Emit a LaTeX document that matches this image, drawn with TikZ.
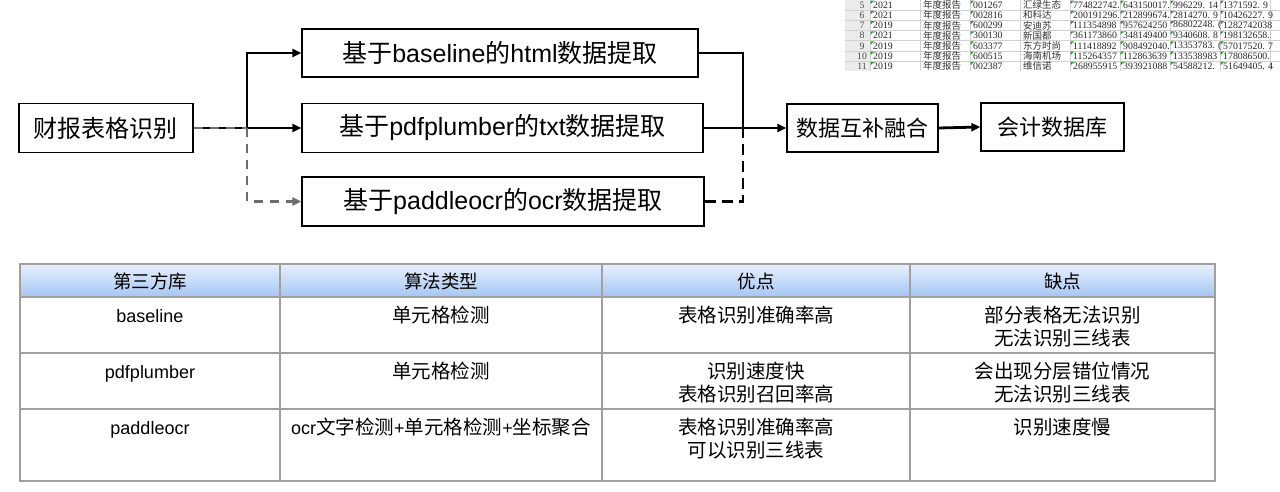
\documentclass[tikz,border=0pt]{standalone}
\usepackage{fontspec}
\setmainfont{Liberation Sans}
\newfontfamily\cjk{Noto Sans CJK SC}
\newfontfamily\xlserif{Liberation Serif}
\usetikzlibrary{arrows.meta}
\definecolor{hdtop}{RGB}{232,240,253}
\definecolor{hdmid}{RGB}{212,227,250}
\definecolor{hdbot}{RGB}{165,197,243}
\definecolor{gridc}{RGB}{160,160,160}
\definecolor{dashg}{RGB}{110,110,110}
\definecolor{xlgreen}{RGB}{40,150,40}
\tikzset{
  flowbox/.style={draw=black, line width=1.3pt, fill=white, inner sep=0pt, align=center},
  tip/.style={-{Triangle[length=9pt,width=8pt]}},
  mainline/.style={draw=black, line width=2.8pt},
  grayline/.style={draw=dashg, line width=2.5pt, dash pattern=on 9pt off 7pt},
  blackdash/.style={draw=black, line width=2.8pt, dash pattern=on 11pt off 6pt},
  th/.style={font=\cjk\fontsize{18.5}{22}\selectfont, anchor=base, inner sep=0pt},
  td/.style={font=\cjk\fontsize{19.5}{23}\selectfont, anchor=base, inner sep=0pt},
  tdl/.style={font=\fontsize{18}{22}\selectfont, anchor=base, inner sep=0pt},
  tgrid/.style={draw=gridc, line width=1.4pt},
  xlnum/.style={font=\xlserif\fontsize{9.8}{10}\selectfont, anchor=west, inner sep=0pt, text=black!85},
  xlcjk/.style={font=\cjk\fontsize{9.5}{10}\selectfont, anchor=west, inner sep=0pt, text=black!80},
  xlrow/.style={font=\xlserif\fontsize{9.8}{10}\selectfont, anchor=center, inner sep=0pt, text=black!70},
  xltri/.style={fill=xlgreen},
}
\begin{document}
\begin{tikzpicture}[x=1pt,y=-1pt]
\fill[white] (0,0) rectangle (1280,492);
\useasboundingbox (0,0) rectangle (1280,492);

% ---------- spreadsheet fragment ----------
\begin{scope}
\clip (845,0) rectangle (1280,71);
\fill[black!8] (845,0) rectangle (870,71);
\foreach \k in {1,...,7} \draw[black!18, line width=0.6pt] (845,{\k*10.2}) -- (1280,{\k*10.2});
\foreach \k in {0,...,8} \draw[black!18, line width=0.6pt] ({870+\k*50},0) -- ({870+\k*50},71);
\foreach \n/\yr/\code/\nm/\va/\vb/\vc/\vd [count=\i from 0] in {
  5/2021/001267/汇绿生态/774822742./643150017./996229. 14/1371592. 9,
  6/2021/002816/和科达/200191296./212899674./2814270. 9/10426227. 9,
  7/2019/600299/安迪苏/111354898/957624250/86802248. (/1282742038,
  8/2021/300130/新国都/361173860/348149400/9340608. 8/198132658.,
  9/2019/603377/东方时尚/111418892/908492040./13353783. (/57017520. 7,
  10/2019/600515/海南机场/115264357/112863639/133538983/178086500.,
  11/2019/002387/维信诺/268955915/393921088/54588212./51649405. 4}{
  \pgfmathsetmacro{\yc}{5.1+\i*10.2}
  \pgfmathsetmacro{\yt}{\i*10.2}
  \node[xlrow] (rn\i) at (862,\yc) {\n};
  \node[xlnum] (yr\i) at (873,\yc) {\yr};
  \node[xlcjk] (ty\i) at (923,\yc) {年度报告};
  \node[xlnum] (cd\i) at (973,\yc) {\code};
  \node[xlcjk] (nm\i) at (1023,\yc) {\nm};
  \node[xlnum] (va\i) at (1073,\yc) {\va};
  \node[xlnum] (vb\i) at (1123,\yc) {\vb};
  \node[xlnum] (vc\i) at (1173,\yc) {\vc};
  \node[xlnum] (vd\i) at (1223,\yc) {\vd};
  \foreach \xx in {870,970,1070,1120,1170,1220}
    \fill[xltri] (\xx+0.7,\yt+0.7) -- ++(3.2,0) -- ++(-3.2,3.2) -- cycle;
}
\end{scope}

% ---------- flow chart ----------
\node[flowbox, minimum width=174pt, minimum height=49pt, font=\fontsize{24}{28}\selectfont] (A) at (106,128) {{\cjk 财报表格识别}};
\node[flowbox, minimum width=396pt, minimum height=48pt, font=\fontsize{25}{30}\selectfont] (B1) at (500,53) {{\cjk 基于}baseline{\cjk 的}html{\cjk 数据提取}};
\node[flowbox, minimum width=401pt, minimum height=49pt, font=\fontsize{25}{30}\selectfont] (B2) at (502.5,128) {{\cjk 基于}pdfplumber{\cjk 的}txt{\cjk 数据提取}};
\node[flowbox, minimum width=402pt, minimum height=49pt, font=\fontsize{25}{30}\selectfont] (B3) at (503,201.5) {{\cjk 基于}paddleocr{\cjk 的}ocr{\cjk 数据提取}};
\node[flowbox, minimum width=151pt, minimum height=48pt, font=\fontsize{22}{26}\selectfont] (C) at (862.5,128) {{\cjk 数据互补融合}};
\node[flowbox, minimum width=143pt, minimum height=48pt, font=\fontsize{22}{26}\selectfont] (D) at (1052.5,127) {{\cjk 会计数据库}};

\coordinate (jl) at (247,128);
\coordinate (jr) at (743,128);

\draw[mainline, tip] (A.east) -- (B2.west);
\draw[mainline, tip] (jl) |- (B1.west);
\draw[grayline] (A.east) -- (jl);
\draw[grayline, tip] (jl) |- (B3.west);
\draw[mainline] (B1.east) -| (jr);
\draw[mainline, tip] (B2.east) -- (C.west);
\draw[blackdash] (B3.east) -| ([yshift=3pt]jr);
\draw[mainline, tip] (C.east) -- (D.west);

% ---------- table ----------
\shade[top color=hdtop, middle color=hdmid, bottom color=hdbot] (20,264) rectangle (1215,297);
\foreach \yy in {297,353,409} \draw[tgrid] (20,\yy) -- (1215,\yy);
\foreach \xx in {280,602,910} \draw[tgrid] (\xx,264) -- (\xx,481);
\draw[tgrid] (20,264) rectangle (1215,481);

\node[th] (h1) at (150,288) {第三方库};
\node[th] (h2) at (441,288) {算法类型};
\node[th] (h3) at (756,288) {优点};
\node[th] (h4) at (1062.5,288) {缺点};

\node[tdl] (r1c1) at (150,322) {baseline};
\node[td] (r1c2) at (441,322) {单元格检测};
\node[td] (r1c3) at (756,322) {表格识别准确率高};
\node[td] (r1c4a) at (1062.5,322) {部分表格无法识别};
\node[td] (r1c4b) at (1062.5,345) {无法识别三线表};

\node[tdl] (r2c1) at (150,378) {pdfplumber};
\node[td] (r2c2) at (441,378) {单元格检测};
\node[td] (r2c3a) at (756,378) {识别速度快};
\node[td] (r2c3b) at (756,401) {表格识别召回率高};
\node[td] (r2c4a) at (1062.5,378) {会出现分层错位情况};
\node[td] (r2c4b) at (1062.5,401) {无法识别三线表};

\node[tdl] (r3c1) at (150,434) {paddleocr};
\node[tdl] (r3c2) at (441,434) {ocr{\cjk\fontsize{19.5}{23}\selectfont 文字检测}+{\cjk\fontsize{19.5}{23}\selectfont 单元格检测}+{\cjk\fontsize{19.5}{23}\selectfont 坐标聚合}};
\node[td] (r3c3a) at (756,434) {表格识别准确率高};
\node[td] (r3c3b) at (756,457) {可以识别三线表};
\node[td] (r3c4) at (1062.5,434) {识别速度慢};
\end{tikzpicture}
\end{document}
